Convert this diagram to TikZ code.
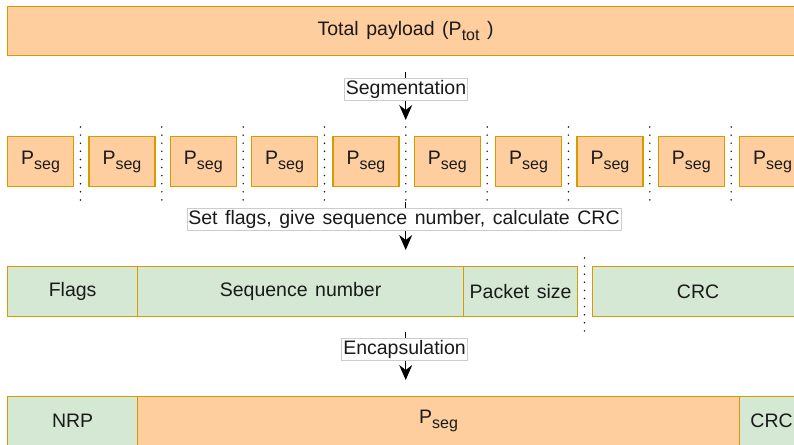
\documentclass[tikz,border=0pt]{standalone}
\usepackage{fontspec}
\setmainfont{Liberation Sans}[WordSpace=1.4]
\usetikzlibrary{arrows.meta}
\definecolor{payload}{HTML}{FFCE9F}
\definecolor{header}{HTML}{D5E8D4}
\definecolor{rim}{HTML}{D79B00}
\definecolor{ink}{HTML}{1A1A1A}
% lowered, slightly smaller index text
\newcommand\idx[1]{\raisebox{-5pt}{\fontsize{16}{16}\selectfont #1}}
\begin{document}
\begin{tikzpicture}[x=1pt,y=-1pt,
  txt/.style={font=\fontsize{19.5}{23}\selectfont, text=ink},
  field/.style={txt, draw=rim, line width=1.2pt, minimum height=49pt,
    inner sep=0pt, anchor=north west},
  data/.style={field, fill=payload},
  hdr/.style={field, fill=header},
  steplabel/.style={txt, fill=white, draw=black!20, line width=0.6pt,
    inner xsep=1.5pt, inner ysep=2pt},
  flow/.style={line width=1.3pt, draw=black,
    -{Stealth[length=15pt,width=13pt,inset=5pt]}},
  sep/.style={line width=1.7pt, line cap=round, dash pattern=on 0pt off 8.1pt, draw=ink}]

\useasboundingbox (0,0) rectangle (794,444);
\clip (0,0) rectangle (794,444);

% whole payload
\node[data, minimum width=796pt] (tot) at (7,6) {Total payload (P\idx{tot} )};

% segments and the dotted cuts between them
\foreach \i in {0,...,9}
  \node[data, minimum width=66pt, minimum height=50pt] (p\i) at ({7+81.33*\i},136) {P\idx{seg}};
\foreach \i in {0,...,8}
  \draw[sep] ({80.5+81.33*\i},127) -- ++(0,76);

% packet header fields
\node[hdr, minimum width=130pt, minimum height=50pt] (flags) at (7,266) {Flags};
\node[hdr, minimum width=326pt, minimum height=50pt] (seqno) at (137,266) {Sequence number};
\node[hdr, minimum width=114pt, minimum height=50pt] (psize) at (463,266) {Packet size};
\node[hdr, minimum width=211pt, minimum height=50pt] (crc) at (592,266) {CRC};
\draw[sep] (584.5,258) -- ++(0,76);

% encapsulated packet
\node[hdr, minimum width=130pt] (nrp) at (7,396) {NRP};
\node[data, minimum width=602pt] (pload) at (137,396) {P\idx{seg}};
\node[hdr, minimum width=64pt] (crc2) at (739,396) {CRC};

% processing steps
\coordinate (s1) at (405.7,72);  \coordinate (e1) at (405.7,120);
\coordinate (s2) at (405.7,202); \coordinate (e2) at (405.7,250);
\coordinate (s3) at (405.7,332); \coordinate (e3) at (405.7,380);
\draw[flow] (s1) -- (e1);
\draw[flow] (s2) -- (e2);
\draw[flow] (s3) -- (e3);
\node[steplabel] (l1) at (406,89.5) {Segmentation};
\node[steplabel] (l2) at (404,219) {Set flags, give sequence number, calculate CRC};
\node[steplabel] (l3) at (404.5,349.5) {Encapsulation};
\end{tikzpicture}
\end{document}
